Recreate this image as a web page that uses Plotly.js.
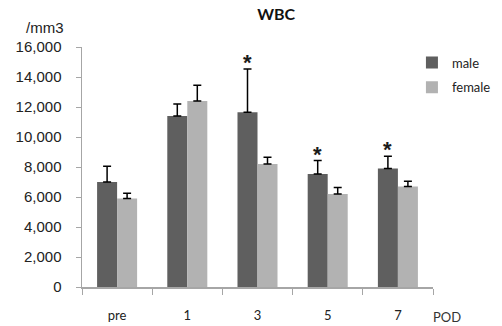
<!DOCTYPE html>
<html>
<head>
<meta charset="utf-8">
<script src="https://cdn.plot.ly/plotly-3.0.1.min.js"></script>
<style>html,body{margin:0;padding:0;background:#fff;}#chart{width:502px;height:326px;}</style>
</head>
<body>
<div id="chart"></div>
<script>
var categories = ["pre", "1", "3", "5", "7"];
var maleValues = [7000, 11400, 11650, 7530, 7900];
var maleErrors = [1050, 800, 2880, 900, 820];
var femaleValues = [5900, 12400, 8200, 6200, 6700];
var femaleErrors = [350, 1050, 450, 430, 350];
var significant = ["3", "5", "7"];
var yTickValues = [0, 2000, 4000, 6000, 8000, 10000, 12000, 14000, 16000];
var yTickLabels = ["0", "2,000", "4,000", "6,000", "8,000", "10,000", "12,000", "14,000", "16,000"];

var bargap = 0.43;
var zeros = categories.map(function(){return 0;});
var traces = [
  {type:"bar", name:"male", x:categories, y:maleValues, legendgroup:"m",
   marker:{color:"#5f5f5f"},
   error_y:{type:"data", symmetric:false, array:maleErrors, arrayminus:zeros, color:"#000", thickness:1.5, width:4}},
  {type:"bar", name:"female", x:categories, y:femaleValues, legendgroup:"f",
   marker:{color:"#b2b2b2"},
   error_y:{type:"data", symmetric:false, array:femaleErrors, arrayminus:zeros, color:"#000", thickness:1.5, width:4}}
];

var annotations = [
  {xref:"paper", yref:"paper", x:-0.165, y:1.08, xanchor:"left", yanchor:"middle", text:"/mm3", showarrow:false,
   font:{family:"Liberation Sans, Arial", size:15, color:"#222"}},
  {xref:"paper", yref:"paper", x:0.995, y:-0.125, xanchor:"left", yanchor:"middle", text:"POD", showarrow:false,
   font:{family:"Lato, Open Sans", size:13, color:"#333"}}
];
significant.forEach(function(c){
  var i = categories.indexOf(c);
  annotations.push({x:i - (1 - bargap) / 4, y:maleValues[i]+maleErrors[i], yshift:-8, xref:"x", yref:"y",
    xanchor:"center", yanchor:"bottom", text:"<b>*</b>", showarrow:false,
    font:{family:"Liberation Sans, Arial", size:22, color:"#1a1a1a"}});
});

var layout = {
  width:502, height:326,
  margin:{l:82, r:69, t:47, b:39, autoexpand:false},
  paper_bgcolor:"#fff", plot_bgcolor:"#fff",
  title:{text:"<b>WBC</b>", x:0.55, xanchor:"center", y:0.955, yanchor:"middle",
    font:{family:"Lato, Open Sans", size:16, color:"#111"}},
  barmode:"group", bargap:bargap, bargroupgap:0,
  showlegend:true,
  legend:{x:0.94, xanchor:"left", y:0.998, yanchor:"top", traceorder:"grouped", tracegroupgap:5,
    font:{family:"Lato, Open Sans", size:13, color:"#222"}, itemwidth:30, bgcolor:"rgba(0,0,0,0)"},
  xaxis:{type:"category", range:[-0.5, 4.5], tickson:"boundaries", ticks:"outside", ticklen:6, tickcolor:"#a6a6a6",
    showline:true, linecolor:"#a6a6a6", linewidth:1.5, showgrid:false, zeroline:false,
    ticklabelstandoff:16,
    tickfont:{family:"Lato, Open Sans", size:13, color:"#222"}, fixedrange:true},
  yaxis:{range:[0,16000], tickvals:yTickValues, ticktext:yTickLabels, ticks:"outside", ticklen:5, tickcolor:"#a6a6a6",
    showline:true, linecolor:"#a6a6a6", linewidth:1.5, showgrid:false, zeroline:false,
    ticklabelstandoff:11,
    tickfont:{family:"Liberation Sans, Arial", size:15, color:"#222"}, fixedrange:true},
  annotations:annotations
};
Plotly.newPlot("chart", traces, layout, {displayModeBar:false, staticPlot:true});
</script>
</body>
</html>
